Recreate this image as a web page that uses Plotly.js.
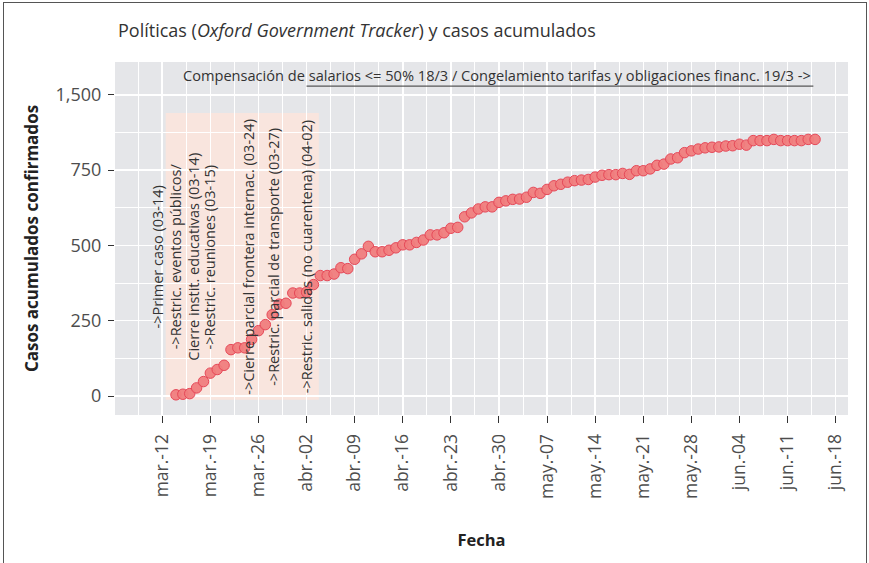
<!DOCTYPE html>
<html><head><meta charset="utf-8">
<script src="https://cdn.plot.ly/plotly-3.0.1.min.js"></script>
<style>
html,body{margin:0;padding:0;background:#fff;}
#chart{position:absolute;left:0;top:0;width:869px;height:563px;}
#frame{position:absolute;left:3px;top:2px;width:862px;height:620px;border:1px solid #555;pointer-events:none;}
</style></head>
<body><div id="chart"></div><div id="frame"></div>
<script>
// ---- data ----
const firstDate = [2020, 2, 14]; // 2020-03-14 (month 0-based)
const cases = [
  4, 6, 8, 27, 48, 76, 88, 102, 154, 160, 160, 188, 217, 237, 270, 305, 308, 342,
  342, 345, 370, 400, 400, 405, 426, 423, 454, 472, 497, 479, 479, 484, 492, 502, 502, 510,
  518, 535, 535, 542, 557, 560, 595, 608, 621, 628, 628, 643,
  648, 653, 654, 660, 676, 673, 686, 698, 703, 710, 715, 717, 719, 727, 733, 735, 735, 739,
  736, 748, 748, 754, 766, 770, 787, 791, 808, 814, 820, 824, 826,
  827, 830, 831, 836, 833, 848, 848, 848, 852, 848, 848, 848, 848, 852, 852
];
const tickDates = ['2020-03-12','2020-03-19','2020-03-26','2020-04-02','2020-04-09','2020-04-16','2020-04-23','2020-04-30','2020-05-07','2020-05-14','2020-05-21','2020-05-28','2020-06-04','2020-06-11','2020-06-18'];
const tickLabels = ['mar.-12','mar.-19','mar.-26','abr.-02','abr.-09','abr.-16','abr.-23','abr.-30','may.-07','may.-14','may.-21','may.-28','jun.-04','jun.-11','jun.-18'];
const yTickVals = [0, 250, 500, 750, 1000];
const yTickText = ['0', '250', '500', '750', '1,500'];
const policyTexts = [
  '-&gt;Primer caso (03-14)',
  '-&gt;Restric. eventos públicos/<br>Cierre instit. educativas (03-14)',
  '-&gt;Restric. reuniones (03-15)',
  '-&gt;Cierre parcial frontera internac. (03-24)',
  '-&gt;Restric. parcial de transporte (03-27)',
  '-&gt;Restric. salidas (no cuarentena) (04-02)'
];
const topText = 'Compensación de salarios &lt;= 50% 18/3 / Congelamiento tarifas y obligaciones financ. 19/3 -&gt;';

// ---- build ----
const dates = cases.map((_, i) => new Date(Date.UTC(firstDate[0], firstDate[1], firstDate[2] + i)).toISOString().slice(0, 10));

// label placement (layout, not data)
const policyX = ['2020-03-11 09:00','2020-03-15 04:20','2020-03-18 22:30','2020-03-24 12:15','2020-03-28 03:40','2020-04-02 00:15'];
const policyY = 463;

const FONT = 'Open Sans, DejaVu Sans, sans-serif';

const trace = {
  type: 'scatter', mode: 'markers', x: dates, y: cases,
  marker: { size: 10.5, color: 'rgba(240,125,125,0.95)', line: { color: '#e64858', width: 1 } },
  hoverinfo: 'x+y'
};

const annotations = policyTexts.map((t, i) => ({
  x: policyX[i], y: policyY, xref: 'x', yref: 'y', text: t, showarrow: false,
  textangle: -90, xanchor: 'center', yanchor: 'middle', align: 'center',
  font: { family: FONT, size: 14.5, color: '#333' }
}));
annotations.push({
  x: '2020-06-14 18:00', y: 1066, xref: 'x', yref: 'y', text: topText, showarrow: false,
  xanchor: 'right', yanchor: 'middle', font: { family: FONT, size: 14.6, color: '#333' }
});

const layout = {
  width: 869, height: 563,
  margin: { l: 115, r: 21, t: 62, b: 148 },
  paper_bgcolor: '#ffffff', plot_bgcolor: '#E5E6E9',
  showlegend: false,
  title: {
    text: 'Políticas (<i>Oxford Government Tracker</i>) y casos acumulados',
    x: 118 / 869, xanchor: 'left', xref: 'container',
    y: 1 - 31 / 563, yanchor: 'middle', yref: 'container',
    font: { family: FONT, size: 18, color: '#333' }
  },
  xaxis: {
    type: 'date', range: ['2020-03-05 03:00', '2020-06-19 19:00'],
    tickmode: 'array', tickvals: tickDates, ticktext: tickLabels, tickangle: -90,
    ticks: 'outside', ticklen: 7, tickcolor: '#333', tickwidth: 1, ticklabelstandoff: 4,
    tickfont: { family: FONT, size: 17.5, color: '#4d4d4d' },
    showgrid: true, gridcolor: '#ffffff', gridwidth: 1.5,
    minor: { tick0: '2020-03-12', dtick: 3.5 * 86400000, showgrid: true, gridcolor: '#ffffff', gridwidth: 1, ticks: '' },
    zeroline: false, showline: false,
    title: { text: '<b>Fecha</b>', standoff: 36, font: { family: FONT, size: 16.5, color: '#222' } }
  },
  yaxis: {
    range: [-63, 1109],
    tickmode: 'array', tickvals: yTickVals, ticktext: yTickText,
    ticks: 'outside', ticklen: 6, tickcolor: '#333', tickwidth: 1, ticklabelstandoff: 3,
    tickfont: { family: FONT, size: 18, color: '#4d4d4d' },
    showgrid: true, gridcolor: '#ffffff', gridwidth: 1.5,
    minor: { tick0: 0, dtick: 125, showgrid: true, gridcolor: '#ffffff', gridwidth: 1, ticks: '' },
    zeroline: false, showline: false,
    title: { text: '<b>Casos acumulados confirmados</b>', standoff: 12, font: { family: FONT, size: 17, color: '#222' } }
  },
  shapes: [
    { type: 'rect', xref: 'x', yref: 'y', x0: '2020-03-12 12:00', x1: '2020-04-03 19:00', y0: -12, y1: 940,
      fillcolor: 'rgba(255,228,218,0.75)', line: { width: 0 }, layer: 'below' },
    { type: 'line', xref: 'x', yref: 'y', x0: '2020-04-02', x1: '2020-06-14 18:00', y0: 1029, y1: 1029,
      line: { color: '#333', width: 1 } }
  ],
  annotations: annotations
};

Plotly.newPlot('chart', [trace], layout, { displayModeBar: false, staticPlot: true });
</script>
</body></html>
